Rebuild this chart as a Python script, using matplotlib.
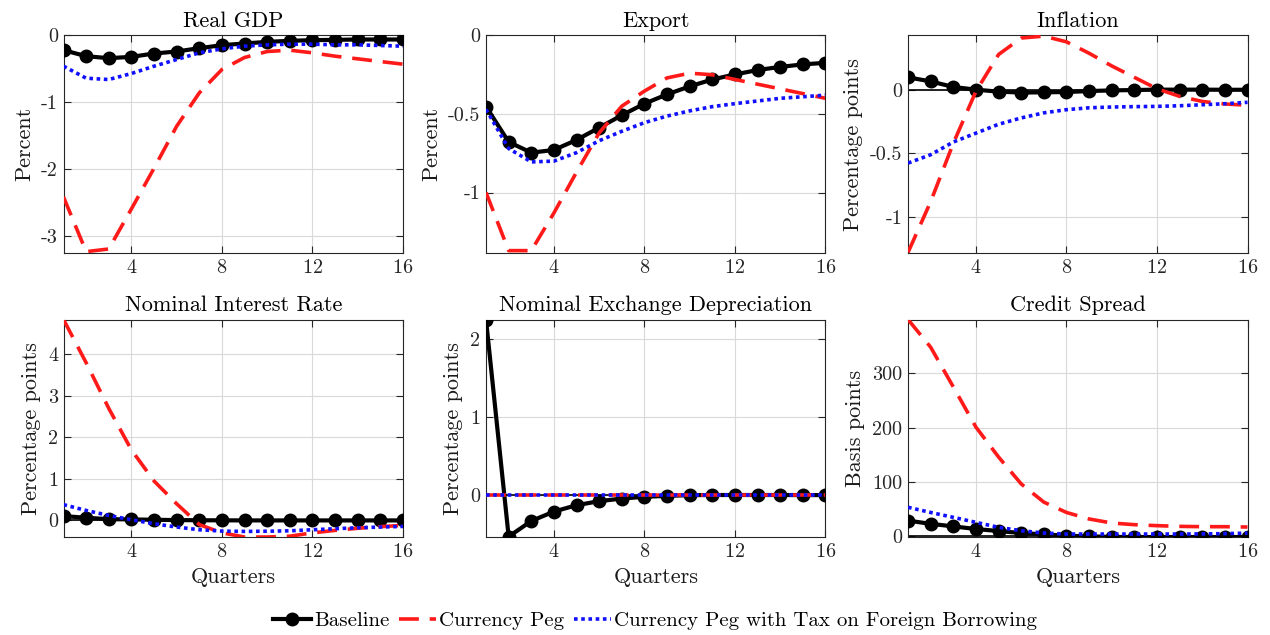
import matplotlib
matplotlib.use('Agg')
import matplotlib.pyplot as plt
from matplotlib.ticker import FuncFormatter

plt.rcParams['font.family'] = 'cmr10'
plt.rcParams['mathtext.fontset'] = 'cm'
plt.rcParams['axes.unicode_minus'] = False
plt.rcParams['axes.formatter.use_mathtext'] = True

quarters = list(range(1, 17))

# Real GDP (percent)
gdp_base = [-0.22, -0.31, -0.34, -0.32, -0.27, -0.24, -0.19, -0.145, -0.12, -0.095, -0.08, -0.07, -0.065, -0.06, -0.06, -0.06]
gdp_peg = [-2.42, -3.24, -3.2, -2.6, -1.99, -1.36, -0.86, -0.51, -0.33, -0.24, -0.22, -0.26, -0.31, -0.35, -0.39, -0.43]
gdp_tax = [-0.46, -0.64, -0.66, -0.57, -0.46, -0.36, -0.26, -0.2, -0.16, -0.14, -0.13, -0.13, -0.14, -0.14, -0.15, -0.16]

# Export (percent)
exp_base = [-0.453, -0.678, -0.746, -0.729, -0.665, -0.587, -0.508, -0.434, -0.375, -0.324, -0.28, -0.248, -0.22, -0.2, -0.184, -0.174]
exp_peg = [-1.0, -1.37, -1.37, -1.13, -0.87, -0.62, -0.45, -0.354, -0.27, -0.24, -0.25, -0.28, -0.31, -0.34, -0.37, -0.40]
exp_tax = [-0.47, -0.72, -0.805, -0.8, -0.746, -0.67, -0.61, -0.555, -0.513, -0.48, -0.453, -0.434, -0.417, -0.40, -0.39, -0.38]

# Inflation (percentage points)
inf_base = [0.10, 0.068, 0.024, 0.003, -0.013, -0.02, -0.018, -0.016, -0.008, -0.003, 0.0, 0.003, 0.003, 0.003, 0.002, 0.002]
inf_peg = [-1.28, -0.88, -0.42, -0.01, 0.28, 0.41, 0.425, 0.38, 0.29, 0.19, 0.10, 0.01, -0.05, -0.09, -0.11, -0.12]
inf_tax = [-0.576, -0.51, -0.41, -0.34, -0.27, -0.22, -0.18, -0.155, -0.14, -0.134, -0.131, -0.129, -0.124, -0.116, -0.108, -0.097]

# Nominal interest rate (percentage points)
rate_base = [0.105, 0.064, 0.03, 0.024, 0.016, 0.008, 0.004, 0.002, 0.0, 0.0, 0.0, 0.0, 0.0, 0.0, 0.0, 0.0]
rate_peg = [4.84, 3.8, 2.7, 1.7, 0.95, 0.4, -0.1, -0.3, -0.4, -0.4, -0.38, -0.3, -0.24, -0.19, -0.15, -0.12]
rate_tax = [0.38, 0.24, 0.12, 0.016, -0.08, -0.16, -0.225, -0.257, -0.265, -0.26, -0.25, -0.225, -0.2, -0.177, -0.16, -0.145]

# Nominal exchange depreciation (percentage points)
dep_base = [2.24, -0.53, -0.33, -0.21, -0.128, -0.077, -0.043, -0.021, -0.009, 0.0, 0.002, 0.002, 0.002, 0.002, 0.001, 0.001]
dep_peg = [0.0] * 16
dep_tax = [0.0] * 16

# Credit spread (basis points)
cs_base = [29, 23, 18.4, 13.5, 9.8, 6.1, 3.7, 1.2, 0.0, -1.0, -1.2, -1.2, -1.2, -1.2, -1.2, -1.2]
cs_peg = [399, 348, 275, 201, 146, 96.5, 63, 44, 32, 24.6, 21.5, 19.7, 18.4, 17.8, 17.8, 17.2]
cs_tax = [53.5, 44, 35, 25.8, 16.6, 10.4, 6.1, 4.3, 4.3, 4.3, 4.3, 4.3, 4.3, 4.5, 5.0, 6.0]

titles = ['Real GDP', 'Export', 'Inflation',
          'Nominal Interest Rate', 'Nominal Exchange Depreciation', 'Credit Spread']
ylabels = ['Percent', 'Percent', 'Percentage points',
           'Percentage points', 'Percentage points', 'Basis points']
series = [(gdp_base, gdp_peg, gdp_tax), (exp_base, exp_peg, exp_tax),
          (inf_base, inf_peg, inf_tax), (rate_base, rate_peg, rate_tax),
          (dep_base, dep_peg, dep_tax), (cs_base, cs_peg, cs_tax)]
ylims = [(-3.26, 0), (-1.385, 0), (-1.285, 0.43),
         (-0.4, 4.84), (-0.535, 2.245), (-1.2, 399)]
yticks = [[-3, -2, -1, 0], [-1, -0.5, 0], [-1, -0.5, 0],
          [0, 1, 2, 3, 4], [0, 1, 2], [0, 100, 200, 300]]

lefts = [0.05, 0.3827, 0.715]
bottoms = [0.6016, 0.1543]
w, h = 0.2673, 0.3425

fig = plt.figure(figsize=(12.7, 6.35), dpi=100)
axes_color = '0.15'
handles = None
for i in range(6):
    ax = fig.add_axes([lefts[i % 3], bottoms[i // 3], w, h])
    base, peg, tax = series[i]
    ax.axhline(0, color='black', linewidth=1.2, zorder=1)
    l1, = ax.plot(quarters, base, color='black', linewidth=3, marker='o',
                  markersize=9, markerfacecolor='black', zorder=3)
    l2, = ax.plot(quarters, peg, color='#ff1a1a', linewidth=2.6,
                  dashes=(5.5, 3.0), zorder=4)
    l3, = ax.plot(quarters, tax, color='#1010ff', linewidth=2.6,
                  dashes=(1.0, 1.0), zorder=5)
    handles = [l1, l2, l3]
    ax.set_xlim(1, 16)
    ax.set_ylim(*ylims[i])
    ax.set_xticks([4, 8, 12, 16])
    ax.set_yticks(yticks[i])
    ax.yaxis.set_major_formatter(FuncFormatter(lambda v, p: '%g' % v))
    ax.grid(True, color='0.85', linewidth=0.8)
    ax.set_axisbelow(True)
    ax.tick_params(direction='in', top=True, right=True, labelsize=14.5,
                   colors=axes_color, length=5, width=0.8, pad=4)
    for s in ax.spines.values():
        s.set_color(axes_color)
        s.set_linewidth(0.8)
    ax.set_title(titles[i], fontsize=16, pad=6, color='black')
    ax.set_ylabel(ylabels[i], fontsize=16, labelpad=5, color='0.1')
    if i >= 3:
        ax.set_xlabel('Quarters', fontsize=16, labelpad=5, color='0.1')

fig.legend(handles, ['Baseline', 'Currency Peg', 'Currency Peg with Tax on Foreign Borrowing'],
           loc='center', bbox_to_anchor=(0.516, 0.022), ncol=3, frameon=False,
           fontsize=15, handlelength=1.8, handletextpad=0.15, columnspacing=0.45)

fig.savefig('out.png', dpi=100)
